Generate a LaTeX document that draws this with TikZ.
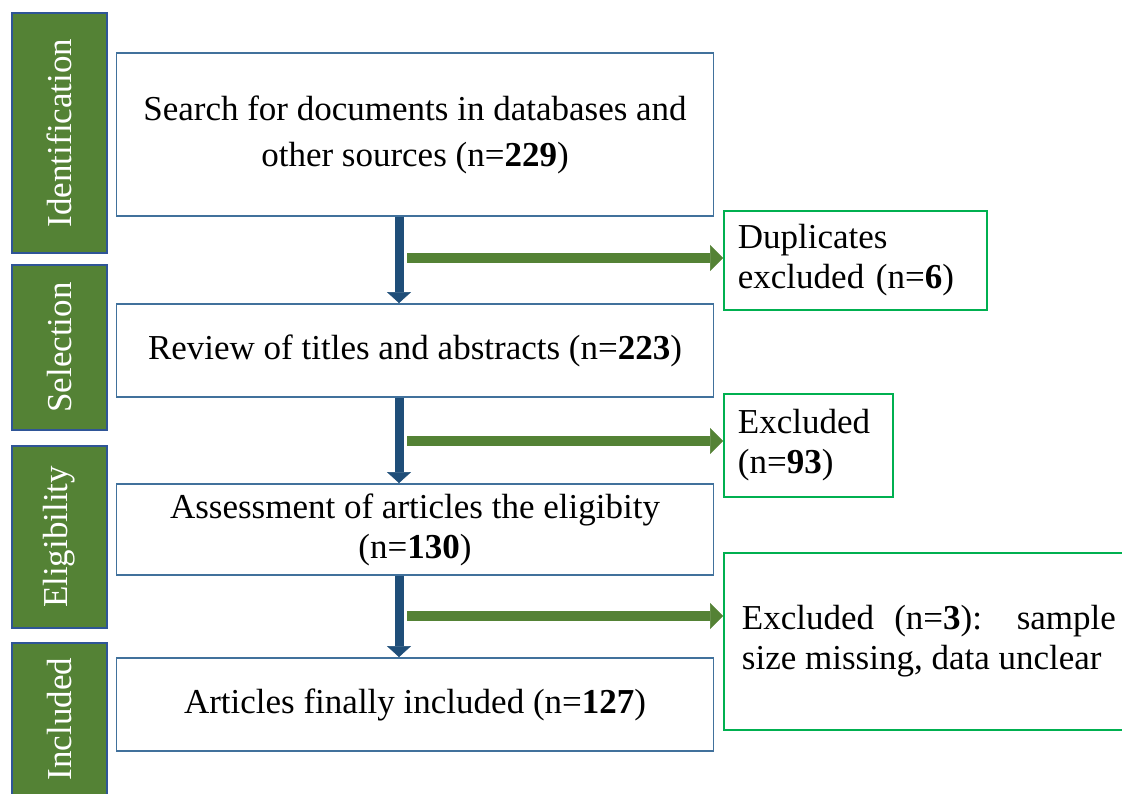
\documentclass[tikz,border=0pt]{standalone}
\usepackage{fontspec}
\setmainfont{Liberation Serif}
\usetikzlibrary{arrows.meta,positioning,calc}
\usepackage{xcolor}
\definecolor{phasegreen}{RGB}{84,130,53}
\definecolor{phaseblue}{RGB}{47,85,151}
\definecolor{boxblue}{RGB}{65,113,156}
\definecolor{flowblue}{RGB}{31,78,121}
\definecolor{exclgreen}{RGB}{0,176,80}

\begin{document}
\begin{tikzpicture}[
    x=1pt, y=-1pt,
    every node/.style={font=\fontsize{35}{40}\selectfont},
    phase/.style={rectangle, draw=phaseblue, line width=2pt, fill=phasegreen, text=white, rotate=90, minimum height=95pt, inner sep=0pt},
    stagebox/.style={rectangle, draw=boxblue, line width=1.8pt, minimum width=597pt, align=center, inner sep=0pt},
    exclbox/.style={rectangle, draw=exclgreen, line width=1.8pt, align=left, inner xsep=14pt, inner ysep=0pt, anchor=west},
    flowdown/.style={flowblue, line width=9pt, -{Triangle[length=11pt, width=24pt, line width=0.5pt]}},
    flowside/.style={phasegreen, line width=10pt, -{Triangle[length=13pt, width=26pt, line width=0.5pt]}}
]
\useasboundingbox (0,0) rectangle (1122,794);

% Phase labels on the left
\foreach \y/\h/\lab/\n in {133/240/Identification/ident, 347.5/165/Selection/sel, 537/182/Eligibility/elig, 719/152/Included/incl} {
    \node[phase, minimum width=\h] (\n) at (59.5,\y) {\lab};
}

% Main stages
\node[stagebox, minimum height=163pt] (search) at (415,134.5) {Search for documents in databases and\\[6pt] other sources (n=\textbf{229})};
\node[stagebox, minimum height=93pt] (review) at (415,350.5) {Review of titles and abstracts (n=\textbf{223})};
\node[stagebox, minimum height=91pt] (assess) at (415,529.5) {Assessment of articles the eligibity\\ (n=\textbf{130})};
\node[stagebox, minimum height=93pt] (final) at (415,704.5) {Articles finally included (n=\textbf{127})};

% Exclusions
\node[exclbox, text width=235pt, minimum height=99pt] (dup) at (723,260.5) {Duplicates\\ excluded (n=\textbf{6})};
\node[exclbox, text width=141pt, minimum height=103pt] (exclA) at (723,445.5) {Excluded\\ (n=\textbf{93})};
\node[exclbox, text width=374pt, align=justify, inner xsep=15pt, minimum width=410pt, minimum height=177pt] (exclB) at (723,641.5) {Excluded (n=\textbf{3}): sample size missing, data unclear};

% Flow down
\foreach \a/\b in {search/review, review/assess, assess/final} {
    \draw[flowdown] ([xshift=-16pt]\a.south) -- ([xshift=-16pt]\b.north);
}

% Flow to exclusions
\foreach \y/\t in {258/dup, 441/exclA, 616/exclB} {
    \coordinate (g\t) at (407,\y);
    \draw[flowside] (g\t) -- (g\t -| \t.west);
}

\end{tikzpicture}
\end{document}
